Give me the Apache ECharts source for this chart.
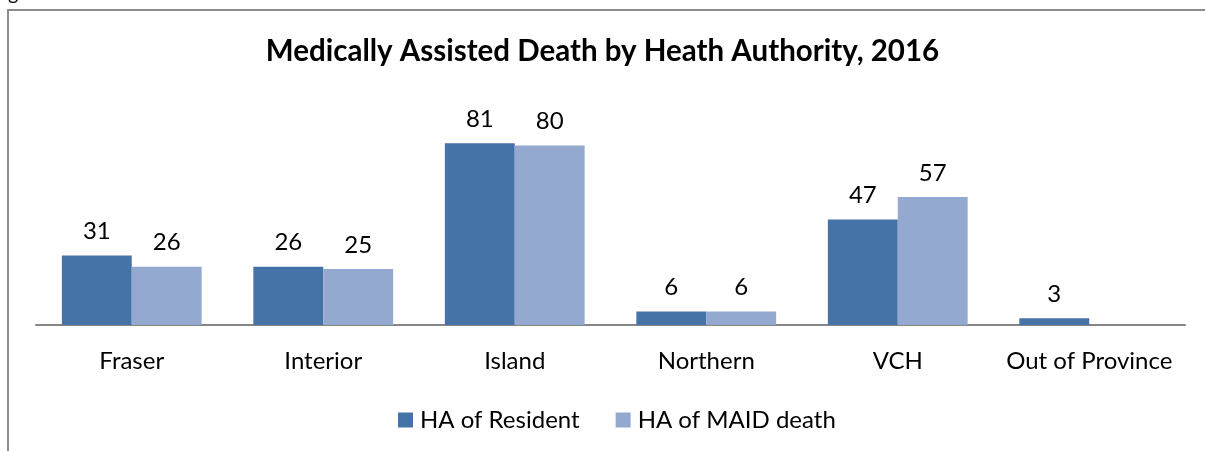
<!DOCTYPE html>
<html>
<head>
<meta charset="utf-8">
<script src="https://cdn.jsdelivr.net/npm/echarts@6/dist/echarts.min.js"></script>
<style>
  html, body { margin: 0; padding: 0; background: #fff; }
  #chart { width: 1205px; height: 451px; }
</style>
</head>
<body>
<div id="chart"></div>
<script>
const categories = ['Fraser', 'Interior', 'Island', 'Northern', 'VCH', 'Out of Province']
const residentValues = [31, 26, 81, 6, 47, 3]
const maidDeathValues = [26, 25, 80, 6, 57, null]

const font = 'Lato, "Open Sans", sans-serif'
const chart = echarts.init(document.getElementById('chart'))

chart.setOption({
  animation: false,
  graphic: [
    {
      type: 'rect',
      shape: { x: 8, y: 10, width: 1260, height: 500 },
      style: { fill: 'none', stroke: '#8c8c8c', lineWidth: 2 },
      silent: true
    },
    {
      type: 'text',
      left: -8,
      top: -16,
      style: { text: 'Figure 6', font: '20px ' + font, fill: '#000' }
    }
  ],
  title: {
    text: 'Medically Assisted Death by Heath Authority, 2016',
    left: 'center',
    top: 31,
    textStyle: { fontFamily: font, fontSize: 29.5, fontWeight: 'bold', color: '#000' }
  },
  legend: {
    data: ['HA of Resident', 'HA of MAID death'],
    left: 393,
    top: 403,
    itemWidth: 15,
    itemHeight: 15,
    itemGap: 36,
    icon: 'rect',
    textStyle: { fontFamily: font, fontSize: 24, color: '#000', padding: [0, 0, 0, 2] }
  },
  grid: { left: 36, right: 20, top: 123, bottom: 126 },
  xAxis: {
    type: 'category',
    data: categories,
    axisLine: { lineStyle: { color: '#868686', width: 2 } },
    axisTick: { show: false },
    axisLabel: { interval: 0, fontFamily: font, fontSize: 24, color: '#000', margin: 24 }
  },
  yAxis: {
    type: 'value',
    min: 0,
    max: 90,
    show: false,
    splitLine: { show: false }
  },
  series: [
    {
      name: 'HA of Resident',
      type: 'bar',
      data: residentValues,
      barGap: '0%',
      barCategoryGap: '27%',
      itemStyle: { color: '#4572a7' },
      label: { show: true, position: 'top', distance: 12, fontFamily: font, fontSize: 24, color: '#000' }
    },
    {
      name: 'HA of MAID death',
      type: 'bar',
      data: maidDeathValues,
      itemStyle: { color: '#93a9cf' },
      label: { show: true, position: 'top', distance: 12, fontFamily: font, fontSize: 24, color: '#000' }
    }
  ]
})
</script>
</body>
</html>
